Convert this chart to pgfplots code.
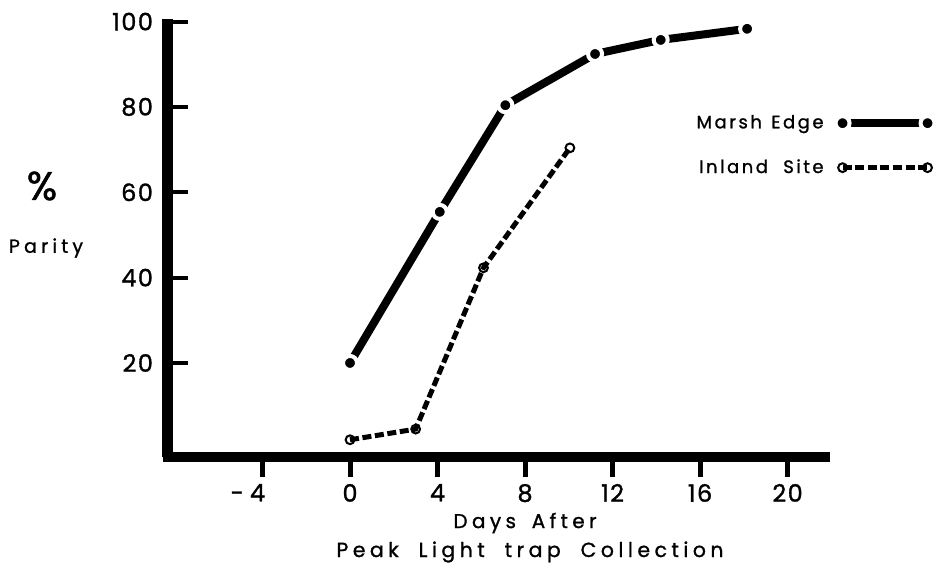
\documentclass[border=0pt]{standalone}
\usepackage{pgfplots}
\pgfplotsset{compat=1.18}
\usepackage{fontspec}
\setmainfont{Poppins}[LetterSpace=6, FakeBold=1.2]
\newfontfamily\legfont{Poppins}[LetterSpace=14, FakeBold=1.2]
\newfontfamily\wide{Poppins}[LetterSpace=22, FakeBold=1.2]

\pgfplotstableread{
x y
0 20.0
4.1 55.4
7.1 80.4
11.2 92.4
14.2 95.7
18.15 98.3
}\marsh

\pgfplotstableread{
x y
0 2.0
3.0 4.5
6.1 42.3
10.05 70.4
}\inland

\begin{document}
\begin{tikzpicture}[x=1pt,y=1pt]
\path[use as bounding box] (-84,-60.5) rectangle (387,228.5);
\begin{axis}[
  at={(0,0)}, anchor=south west,
  scale only axis, width=328.5pt, height=219pt,
  xmin=-8.32, xmax=21.71, ymin=-2.04, ymax=100.6,
  axis x line*=bottom, axis y line*=left,
  x axis line style={line width=5pt, -, line cap=rect},
  y axis line style={line width=5.5pt, -, line cap=butt},
  xtick={-4,0,4,8,12,16,20},
  xticklabels={{\llap{-\kern3pt}4\kern5pt},0,4,8,12,16,20},
  ytick={20,40,60,80,100},
  xtick align=outside, ytick align=inside,
  major tick length=10pt,
  xtick style={line width=2.5pt, black},
  ytick style={line width=2pt, black},
  tick label style={font=\fontsize{12}{14}\selectfont},
  /pgf/number format/assume math mode=true,
  yticklabel style={xshift=-4pt},
  clip=false,
  legend plot pos=right,
  legend cell align=right,
  legend style={draw=none, fill=none, at={(1.1765,0.80)}, anchor=north east,
    font=\legfont\fontsize{9}{11}\selectfont, row sep=10pt, column sep=4pt},
  legend image code/.code={\draw[#1] plot coordinates {(0pt,0pt) (42.5pt,0pt)};},
]
\addplot[black, line width=4pt, mark=*, mark size=3.5pt,
  mark options={fill=black, draw=white, line width=2pt}] table[x=x,y=y] {\marsh};
\addlegendentry{Marsh\ \kern1pt Edge}
\addplot[black, line width=2.5pt, dash pattern=on 4.5pt off 1.8pt, mark=o, mark size=2.2pt,
  mark options={solid, fill=white, line width=1pt}] table[x=x,y=y] {\inland};
\addlegendentry{Inland\ \kern4pt Site}
\end{axis}
\node[font=\fontsize{20}{22}\selectfont] at (-63,135.5) {\%};
\node[font=\wide\fontsize{9.5}{11}\selectfont] at (-61,104.5) {Parity};
\node[font=\wide\fontsize{10}{12}\selectfont] at (178.5,-33) {Days\ \kern3pt After};
\node[font=\wide\fontsize{10.2}{12}\selectfont] at (181,-47.5) {Peak\ \kern5pt Light\ \kern5pt trap\ \kern5pt Collection};
\end{tikzpicture}
\end{document}
